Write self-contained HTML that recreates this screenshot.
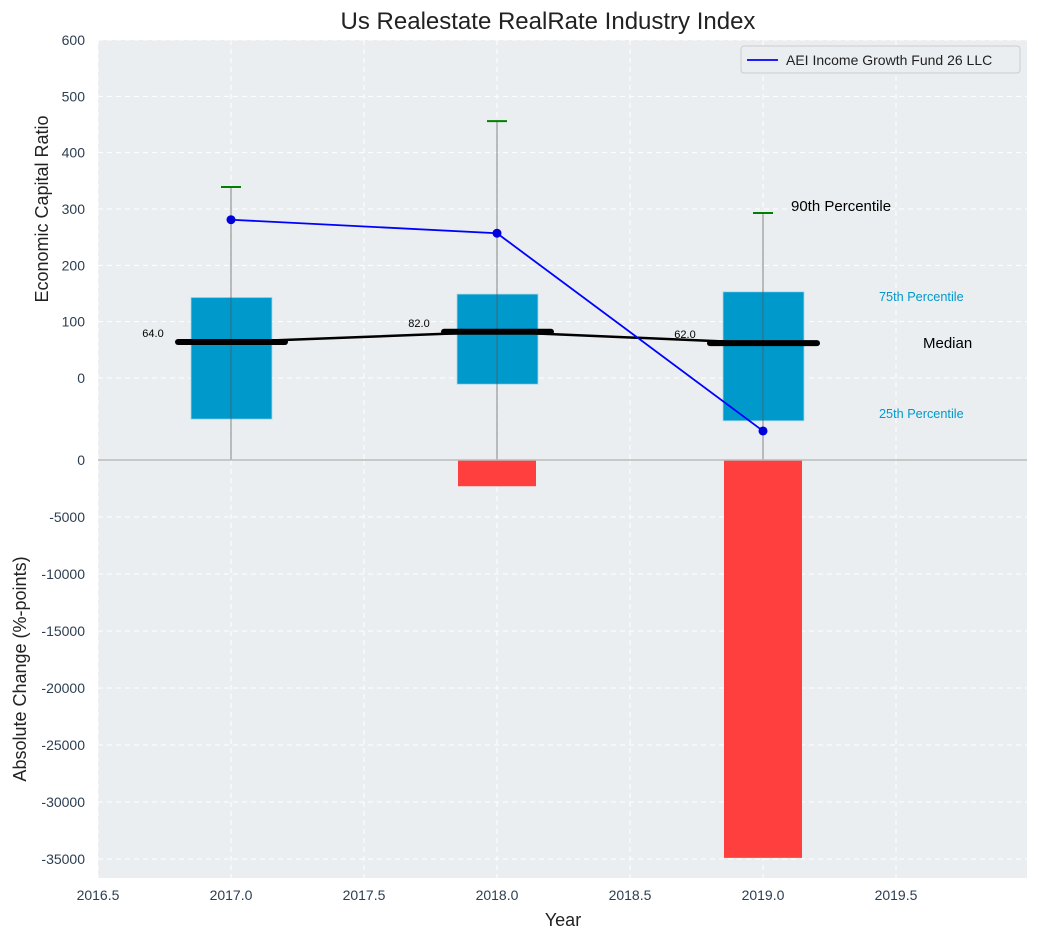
<!DOCTYPE html>
<html><head><meta charset="utf-8"><style>
body{margin:0;background:#fff;font-family:"Liberation Sans",sans-serif;}
svg text{font-family:"Liberation Sans",sans-serif;}
</style></head><body>
<svg id="chart" width="1038" height="940" xmlns="http://www.w3.org/2000/svg">
<text x="548" y="29" font-size="24" text-anchor="middle" fill="#222">Us Realestate RealRate Industry Index</text>
<g id="topPanel"></g>
<g id="botPanel"></g>
<text transform="translate(48,209) rotate(-90)" font-size="18" text-anchor="middle" fill="#222">Economic Capital Ratio</text>
<text transform="translate(26,669) rotate(-90)" font-size="18" text-anchor="middle" fill="#222">Absolute Change (%-points)</text>
<text x="563" y="926" font-size="18" text-anchor="middle" fill="#222">Year</text>
</svg>
<script>
const years=[2017,2018,2019];
const p25=[-73,-11,-76];
const p75=[143,149,153];
const medians=[64,82,62];
const p90=[339,456,293];
const p10=[-200,-200,-200];
const fund=[281,257,-94];
const changes=[0,-2300,-34900];
const topTicks=[0,100,200,300,400,500,600];
const botTicks=[0,-5000,-10000,-15000,-20000,-25000,-30000,-35000];
const xTicks=[2016.5,2017.0,2017.5,2018.0,2018.5,2019.0,2019.5];

const NS="http://www.w3.org/2000/svg";
const L=98,R=1027,T=40,M=460,B=878;
const xs=v=>L+(v-2016.5)*266;
const yt=v=>378-v*0.5633;
function ybf(v){return 460-v*(399/35000);}
function el(p,tag,a){const e=document.createElementNS(NS,tag);for(const k in a)e.setAttribute(k,a[k]);p.appendChild(e);return e;}
const topG=document.getElementById('topPanel'),botG=document.getElementById('botPanel');

el(topG,'rect',{x:L,y:T,width:R-L,height:M-T,fill:'#eaeef0'});
el(botG,'rect',{x:L,y:M,width:R-L,height:B-M,fill:'#eaeef0'});
xTicks.forEach(t=>{
 let g1=el(topG,'line',{x1:xs(t),x2:xs(t),y1:T,y2:M,stroke:'#fff','stroke-dasharray':'5,4'});
 
 
 let g2=el(botG,'line',{x1:xs(t),x2:xs(t),y1:M,y2:B,stroke:'#fff','stroke-dasharray':'5,4'});
 
 
 let tx=el(botG,'text',{x:xs(t),y:B+22,'font-size':14,'text-anchor':'middle',fill:'#2c3e50'});tx.textContent=t.toFixed(1);
 
 
});
topTicks.forEach(t=>{
 el(topG,'line',{x1:L,x2:R,y1:yt(t),y2:yt(t),stroke:'#fff','stroke-dasharray':'5,4'});
 let tx=el(topG,'text',{x:85,y:yt(t)+5,'font-size':14,'text-anchor':'end',fill:'#2c3e50'});tx.textContent=t;
 
 
});
botTicks.forEach(t=>{
 el(botG,'line',{x1:L,x2:R,y1:ybf(t),y2:ybf(t),stroke:'#fff','stroke-dasharray':'5,4'});
 let tx=el(botG,'text',{x:85,y:ybf(t)+5,'font-size':14,'text-anchor':'end',fill:'#2c3e50'});tx.textContent=t;
 
 
});
years.forEach((y,i)=>{
 if(changes[i]===0)return;
 let r=el(botG,'rect',{x:xs(y)-39,y:M,width:78,height:ybf(changes[i])-M,fill:'#ff3e3e'});
 
 
});
el(botG,'line',{x1:L,x2:R,y1:M,y2:M,stroke:'#bbb','stroke-width':1.5});
const clip=el(topG,'clipPath',{id:'cp'});el(clip,'rect',{x:L,y:T,width:R-L,height:M-T});
const g=el(topG,'g',{'clip-path':'url(#cp)'});
years.forEach((y,i)=>{
 let b=el(g,'rect',{x:xs(y)-40,y:yt(p75[i]),width:81,height:yt(p25[i])-yt(p75[i]),fill:'#0099cc',stroke:'#a8d8ea','stroke-width':0.8});
 
 
 let w=el(g,'line',{x1:xs(y),x2:xs(y),y1:yt(p90[i]),y2:yt(p10[i]),stroke:'#555','stroke-width':1,opacity:0.7});
 
 
 let c=el(g,'line',{x1:xs(y)-10,x2:xs(y)+10,y1:yt(p90[i]),y2:yt(p90[i]),stroke:'#008000','stroke-width':2});
 
 
});
el(g,'polyline',{points:years.map((y,i)=>xs(y)+','+yt(medians[i])).join(' '),fill:'none',stroke:'#000','stroke-width':2.5});
years.forEach((y,i)=>{
 let m=el(g,'line',{x1:xs(y)-53,x2:xs(y)+54,y1:yt(medians[i]),y2:yt(medians[i]),stroke:'#000','stroke-width':6,'stroke-linecap':'round'});
 
 
 let t=el(g,'text',{x:xs(y)-78,y:yt(medians[i])-5,'font-size':11,'text-anchor':'middle',fill:'#000'});t.textContent=medians[i].toFixed(1);
 
 
});
el(g,'polyline',{points:years.map((y,i)=>xs(y)+','+yt(fund[i])).join(' '),fill:'none',stroke:'#0000ff','stroke-width':1.8});
years.forEach((y,i)=>{
 let d=el(g,'circle',{cx:xs(y),cy:yt(fund[i]),r:4.5,fill:'#0000dd'});
 
 
});
function ann(x,y,s,fs,col,name){let t=el(topG,'text',{x:x,y:y,'font-size':fs,fill:col});t.textContent=s;
 
 
}
ann(791,211,'90th Percentile',15,'#000','p90-annotation');
ann(879,301,'75th Percentile',12.7,'#0099cc','p75-annotation');
ann(923,348,'Median',15,'#000','median-annotation');
ann(879,418,'25th Percentile',12.7,'#0099cc','p25-annotation');
const lg=el(topG,'g',{});


el(lg,'rect',{x:741,y:46,width:279,height:27,rx:3,fill:'#eaeef0',stroke:'#ccc'});
el(lg,'line',{x1:747,x2:778,y1:60,y2:60,stroke:'#0000ff','stroke-width':1.8});
let lt=el(lg,'text',{x:786,y:65,'font-size':14,fill:'#222'});lt.textContent='AEI Income Growth Fund 26 LLC';


</script>
</body></html>
